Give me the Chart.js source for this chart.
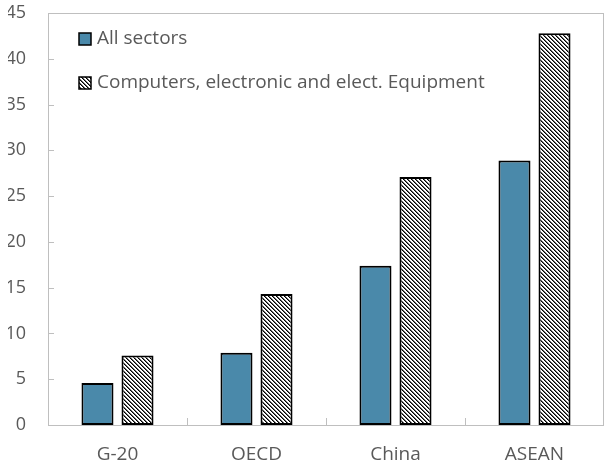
<!DOCTYPE html>
<html>
<head>
<meta charset="utf-8">
<script src="https://cdn.jsdelivr.net/npm/chart.js@4.4.0/dist/chart.umd.min.js"></script>
<style>
  body { margin: 0; background: #fff; }
  #wrap { width: 605px; height: 466px; position: relative; }
</style>
</head>
<body>
<div id="wrap"><canvas id="sectorChart"></canvas></div>
<script>
var regions = ['G-20', 'OECD', 'China', 'ASEAN'];
var allSectors = [4.6, 7.9, 17.4, 28.9];
var electronics = [7.6, 14.3, 27.1, 42.8];
var seriesNames = ['All sectors', 'Computers, electronic and elect. Equipment'];
var yMax = 45;
var yStep = 5;

var textColor = '#595959';
var axisColor = '#bfbfbf';
var fontFamily = "'Open Sans', 'Noto Sans', sans-serif";

// black diagonal hatch on white, used for the electronics bars
function makeHatch() {
  var c = document.createElement('canvas');
  c.width = 4; c.height = 4;
  var g = c.getContext('2d');
  g.fillStyle = '#fff';
  g.fillRect(0, 0, 4, 4);
  for (var i = 0; i < 4; i++) {
    g.fillStyle = '#000';
    g.fillRect(i, i, 1, 1);
    g.fillStyle = '#666';
    g.fillRect((i + 1) % 4, i, 1, 1);
  }
  return g.createPattern(c, 'repeat');
}
var hatch = makeHatch();

// plot frame + inside tick marks, legend drawn inside the plot
var framePlugin = {
  id: 'frame',
  beforeDatasetsDraw: function(chart) {
    var ctx = chart.ctx, a = chart.chartArea;
    var y = chart.scales.y;
    ctx.save();
    ctx.strokeStyle = axisColor;
    ctx.lineWidth = 1;
    ctx.strokeRect(a.left + 0.5, a.top + 0.5, a.right - a.left - 1, a.bottom - a.top);
    ctx.beginPath();
    y.ticks.forEach(function(t) {
      var py = Math.round(y.getPixelForValue(t.value)) + 0.5;
      ctx.moveTo(a.left, py);
      ctx.lineTo(a.left + 6, py);
    });
    var w = (a.right - a.left) / regions.length;
    for (var i = 1; i < regions.length; i++) {
      var px = Math.round(a.left + w * i) + 0.5;
      ctx.moveTo(px, a.bottom);
      ctx.lineTo(px, a.bottom - 7);
    }
    ctx.stroke();
    ctx.restore();
  },
  afterDraw: function(chart) {
    var ctx = chart.ctx;
    var rows = [39, 83];
    ctx.save();
    ctx.font = '19px ' + fontFamily;
    ctx.textBaseline = 'middle';
    chart.data.datasets.forEach(function(ds, i) {
      var cy = rows[i];
      ctx.fillStyle = ds.backgroundColor;
      ctx.fillRect(79, cy - 6, 12, 12);
      ctx.strokeStyle = '#000';
      ctx.lineWidth = 1.5;
      ctx.strokeRect(79, cy - 6, 12, 12);
      ctx.fillStyle = textColor;
      ctx.fillText(ds.label, 97, cy);
    });
    ctx.restore();
  }
};

new Chart(document.getElementById('sectorChart'), {
  type: 'bar',
  data: {
    labels: regions,
    datasets: [{
      label: seriesNames[0],
      data: allSectors,
      backgroundColor: '#4a89aa',
      borderColor: '#000',
      borderWidth: 2,
      borderSkipped: false
    }, {
      label: seriesNames[1],
      data: electronics,
      backgroundColor: hatch,
      borderColor: '#000',
      borderWidth: 2,
      borderSkipped: false
    }]
  },
  options: {
    responsive: true,
    maintainAspectRatio: false,
    animation: false,
    layout: { padding: { left: 8, top: 13, right: 1, bottom: 0 } },
    datasets: { bar: { categoryPercentage: 0.576, barPercentage: 0.8 } },
    plugins: {
      legend: { display: false },
      tooltip: { enabled: false }
    },
    scales: {
      x: {
        grid: { display: false, drawTicks: false },
        border: { display: false },
        ticks: { color: textColor, font: { family: fontFamily, size: 19 }, padding: 18 },
        afterFit: function(s) { s.height = 41; s.paddingLeft = 0; s.paddingRight = 0; }
      },
      y: {
        min: 0,
        max: yMax,
        grid: { display: false, drawTicks: false },
        border: { display: false },
        ticks: { stepSize: yStep, color: textColor, font: { family: fontFamily, size: 18 }, padding: 22 },
        afterFit: function(s) { s.width = 40; s.paddingTop = 0; s.paddingBottom = 0; }
      }
    }
  },
  plugins: [framePlugin]
});
</script>
</body>
</html>
